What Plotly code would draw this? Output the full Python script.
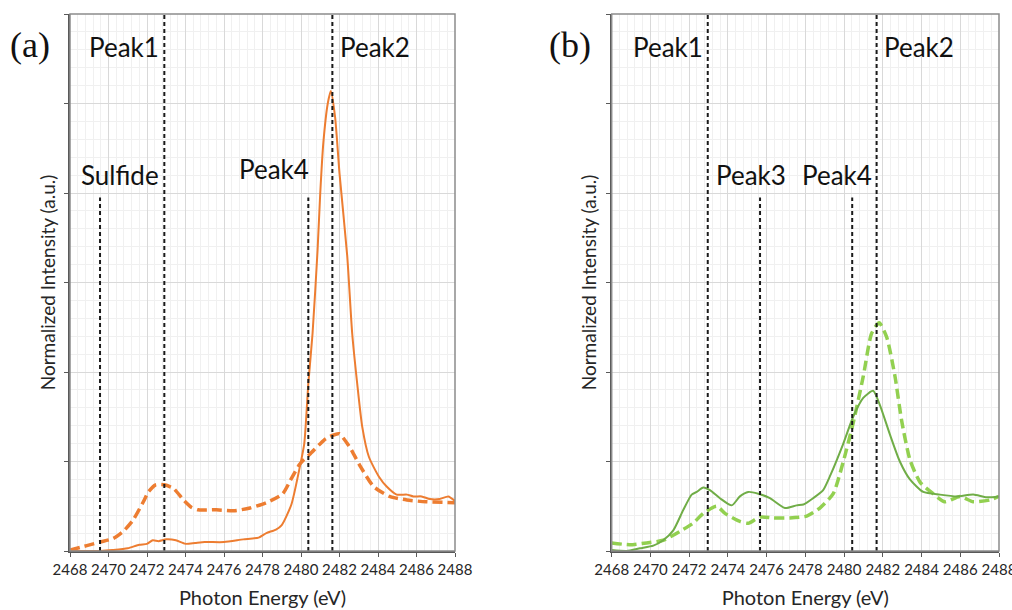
import plotly.graph_objects as go

# ---------------- data ----------------
# Panel (a): orange
a_solid_x = [2468, 2469, 2469.6, 2470.2, 2471, 2471.6, 2472.0, 2472.3, 2472.6, 2473, 2473.5, 2474,
             2474.5, 2475, 2476, 2477, 2477.8, 2478.2, 2478.7, 2479, 2479.5, 2479.9, 2480.17, 2480.38,
             2480.6, 2480.86, 2481.0, 2481.16, 2481.39, 2481.55, 2481.77, 2482.0, 2482.4,
             2482.66, 2482.92, 2483.18, 2483.53, 2484.05, 2484.45, 2484.97, 2485.5, 2485.84, 2486.27,
             2486.7, 2487.2, 2487.65, 2488]
a_solid_y = [0.0, 0.0, 0.0, 0.01, 0.03, 0.07, 0.08, 0.12, 0.11, 0.13, 0.12, 0.08,
             0.09, 0.10, 0.10, 0.13, 0.15, 0.20, 0.24, 0.29, 0.52, 0.9, 1.2, 1.87,
             2.43, 3.36, 4.0, 4.56, 5.0, 5.14, 4.85, 4.22, 3.3,
             2.43, 1.87, 1.39, 1.05, 0.83, 0.72, 0.63, 0.63, 0.61, 0.61,
             0.58, 0.58, 0.61, 0.56]

a_dash_x = [2468, 2468.87, 2469.56, 2470.25, 2470.77, 2471.29, 2471.81, 2472.07, 2472.45, 2472.9,
            2473.37, 2473.9, 2474.3, 2474.65, 2475.6, 2476.5, 2477.35, 2478.2, 2479.05, 2479.45,
            2479.9, 2480.14, 2480.5, 2481.2, 2481.5, 2481.98, 2482.5, 2483.1, 2483.77, 2484.6,
            2485.5, 2486.5, 2488]
a_dash_y = [0.01, 0.06, 0.10, 0.14, 0.22, 0.35, 0.55, 0.66, 0.74, 0.74,
            0.70, 0.57, 0.49, 0.46, 0.46, 0.45, 0.48, 0.54, 0.64, 0.79,
            0.96, 1.02, 1.09, 1.24, 1.28, 1.31, 1.17, 0.94, 0.72, 0.61,
            0.57, 0.55, 0.54]

# Panel (b): green
b_solid_x = [2468, 2468.77, 2469.46, 2470.15, 2470.66, 2471.18, 2471.7, 2472.13, 2472.39, 2472.73,
             2473.07, 2473.59, 2474.2, 2474.62, 2475.05, 2475.57, 2476.17, 2476.95, 2477.55, 2477.9,
             2478.4, 2478.92, 2479.3, 2479.96, 2480.47, 2480.99, 2481.5, 2481.85, 2482.37, 2482.88,
             2483.4, 2484.09, 2484.95, 2485.81, 2486.67, 2487.36, 2488]
b_solid_y = [0.01, 0.0, 0.03, 0.06, 0.12, 0.23, 0.46, 0.63, 0.66, 0.71,
             0.68, 0.59, 0.51, 0.61, 0.66, 0.64, 0.59, 0.48, 0.51, 0.52,
             0.59, 0.68, 0.85, 1.2, 1.5, 1.71, 1.79, 1.63, 1.3, 1.0,
             0.8, 0.66, 0.63, 0.61, 0.63, 0.60, 0.61]

b_dash_x = [2468, 2468.94, 2469.8, 2470.66, 2471.53, 2472.2, 2472.73, 2473.42, 2473.85, 2474.62,
            2475.05, 2475.66, 2476.34, 2477.2, 2478.07, 2478.75, 2479.44, 2479.96, 2480.47, 2480.99,
            2481.42, 2481.81, 2482.2, 2482.63, 2482.97, 2483.4, 2483.92, 2484.6, 2485.2, 2485.98,
            2486.67, 2487.53, 2488]
b_dash_y = [0.09, 0.07, 0.09, 0.12, 0.22, 0.31, 0.42, 0.50, 0.42, 0.33,
            0.31, 0.38, 0.37, 0.37, 0.39, 0.48, 0.64, 1.0, 1.43, 1.95,
            2.43, 2.55, 2.39, 1.95, 1.46, 1.02, 0.77, 0.64, 0.55, 0.61,
            0.55, 0.57, 0.61]

# Reference lines: (label, energy, line top)
a_lines = [("Sulfide", 2469.56, 3.95), ("Peak1", 2472.9, 6), ("Peak4", 2480.38, 3.95), ("Peak2", 2481.63, 6)]
b_lines = [("Peak1", 2472.96, 6), ("Peak3", 2475.66, 3.95), ("Peak4", 2480.42, 3.95), ("Peak2", 2481.68, 6)]

# Label placements: (text, x, y, anchor)
a_labels = [("Peak1", 2472.75, 5.63, "right"), ("Peak2", 2481.9, 5.63, "left"),
            ("Sulfide", 2472.75, 4.2, "right"), ("Peak4", 2480.5, 4.27, "right")]
b_labels = [("Peak1", 2472.8, 5.63, "right"), ("Peak2", 2481.95, 5.63, "left"),
            ("Peak3", 2473.3, 4.2, "left"), ("Peak4", 2481.55, 4.2, "right")]

x_range = [2468, 2488]
y_range = [0, 6]

ORANGE = "#ED7D31"
GREEN = "#70AD47"
LIME = "#92D050"
FONT = "Lato"

W, H = 1012, 610
ML, MR, MT, MB = 70, 13, 14, 59
PW = W - ML - MR

fig = go.Figure()
fig.add_trace(go.Scatter(x=a_dash_x, y=a_dash_y, mode="lines", xaxis="x", yaxis="y",
                         line=dict(color=ORANGE, width=3.5, dash="10px,5px", shape="spline", smoothing=0.6)))
fig.add_trace(go.Scatter(x=a_solid_x, y=a_solid_y, mode="lines", xaxis="x", yaxis="y",
                         line=dict(color=ORANGE, width=2, shape="spline", smoothing=0.6)))
fig.add_trace(go.Scatter(x=b_dash_x, y=b_dash_y, mode="lines", xaxis="x2", yaxis="y2",
                         line=dict(color=LIME, width=3.5, dash="10px,5px", shape="spline", smoothing=0.6)))
fig.add_trace(go.Scatter(x=b_solid_x, y=b_solid_y, mode="lines", xaxis="x2", yaxis="y2",
                         line=dict(color=GREEN, width=2, shape="spline", smoothing=0.6)))

shapes = []
for lines, xr, yr in [(a_lines, "x", "y"), (b_lines, "x2", "y2")]:
    for _, e, top in lines:
        shapes.append(dict(type="line", xref=xr, yref=yr, x0=e, x1=e, y0=0, y1=top,
                           line=dict(color="#1a1a1a", width=2, dash="4px,3px")))

annotations = []
for labels, xr, yr in [(a_labels, "x", "y"), (b_labels, "x2", "y2")]:
    for t, x, y, anc in labels:
        annotations.append(dict(text=t, x=x, y=y, xref=xr, yref=yr, showarrow=False,
                                xanchor=anc, yanchor="middle",
                                font=dict(family=FONT, size=26, color="#111111")))

for t, xpix in [("(a)", 8), ("(b)", 547)]:
    annotations.append(dict(text=t, x=(xpix - ML) / PW, y=(H - MB - 45) / (H - MT - MB),
                            xref="paper", yref="paper", showarrow=False,
                            xanchor="left", yanchor="middle",
                            font=dict(family="Liberation Serif", size=36, color="#111111")))

def xaxis(dom, anchor):
    return dict(domain=dom, anchor=anchor, range=x_range, dtick=2, tick0=2468, automargin=False,
                showgrid=True, gridcolor="#D9D9D9", gridwidth=1, ticklabeloverflow="allow",
                minor=dict(dtick=0.4, tick0=2468, showgrid=True, gridcolor="#F0F0F0", gridwidth=1),
                ticks="outside", ticklen=4, tickcolor="#595959",
                showline=True, linecolor="#595959", linewidth=1.5, mirror=False,
                tickfont=dict(family=FONT, size=15, color="#262626"),
                title=dict(text="Photon Energy (eV)", font=dict(family=FONT, size=20, color="#262626"),
                           standoff=14),
                zeroline=False)

def yaxis(anchor):
    return dict(domain=[0, 1], anchor=anchor, range=y_range, dtick=1, tick0=0, automargin=False,
                showgrid=True, gridcolor="#D9D9D9", gridwidth=1,
                minor=dict(dtick=0.2, tick0=0, showgrid=True, gridcolor="#F0F0F0", gridwidth=1),
                ticks="outside", ticklen=4, tickcolor="#595959", showticklabels=False,
                showline=True, linecolor="#595959", linewidth=1.5, mirror=False,
                title=dict(text="Normalized Intensity (a.u.)", font=dict(family=FONT, size=19, color="#262626"),
                           standoff=4),
                zeroline=False)

# Plot-area frames
for xr, yr in [("x domain", "y domain"), ("x2 domain", "y2 domain")]:
    shapes.append(dict(type="rect", xref=xr, yref=yr, x0=0, x1=1, y0=0, y1=1,
                       line=dict(color="#8c8c8c", width=1.5), layer="above"))

fig.update_layout(
    width=W, height=H,
    margin=dict(l=ML, r=MR, t=MT, b=MB),
    paper_bgcolor="white", plot_bgcolor="white",
    showlegend=False,
    xaxis=xaxis([0, 385 / PW], "y"),
    yaxis=yaxis("x"),
    xaxis2=xaxis([(611.7 - ML) / PW, 1.0], "y2"),
    yaxis2=yaxis("x2"),
    shapes=shapes,
    annotations=annotations,
)

fig.write_html("out.html", config={"displayModeBar": False},
               post_script="document.body.style.margin='0';document.body.style.overflow='hidden';")
